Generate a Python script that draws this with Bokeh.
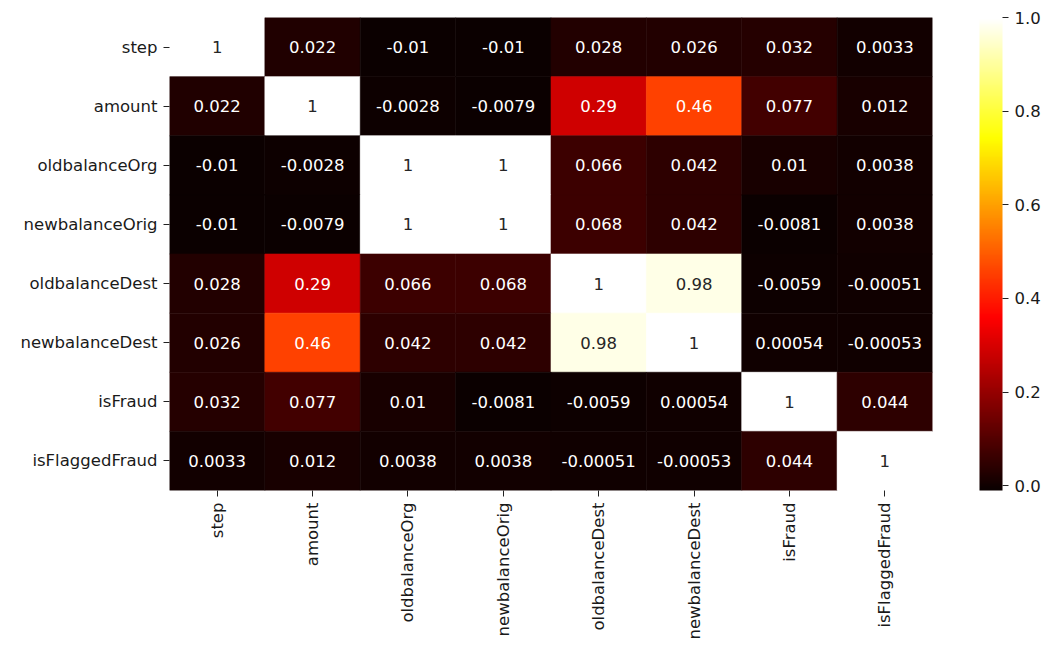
import numpy as np
from bokeh.plotting import figure
from bokeh.models import (ColumnDataSource, LinearColorMapper, ColorBar,
                          FixedTicker, PrintfTickFormatter)
from bokeh.core.properties import value
from bokeh.embed import file_html
from bokeh.resources import INLINE

# Correlation matrix of the transaction features
features = ["step", "amount", "oldbalanceOrg", "newbalanceOrig",
            "oldbalanceDest", "newbalanceDest", "isFraud", "isFlaggedFraud"]

row_step = [1, 0.022, -0.01, -0.01, 0.028, 0.026, 0.032, 0.0033]
row_amount = [0.022, 1, -0.0028, -0.0079, 0.29, 0.46, 0.077, 0.012]
row_oldbalanceOrg = [-0.01, -0.0028, 1, 1, 0.066, 0.042, 0.01, 0.0038]
row_newbalanceOrig = [-0.01, -0.0079, 1, 1, 0.068, 0.042, -0.0081, 0.0038]
row_oldbalanceDest = [0.028, 0.29, 0.066, 0.068, 1, 0.98, -0.0059, -0.00051]
row_newbalanceDest = [0.026, 0.46, 0.042, 0.042, 0.98, 1, 0.00054, -0.00053]
row_isFraud = [0.032, 0.077, 0.01, -0.0081, -0.0059, 0.00054, 1, 0.044]
row_isFlaggedFraud = [0.0033, 0.012, 0.0038, 0.0038, -0.00051, -0.00053, 0.044, 1]

colorbar_ticks = [0.0, 0.2, 0.4, 0.6, 0.8, 1.0]

matrix = np.array([row_step, row_amount, row_oldbalanceOrg, row_newbalanceOrig,
                   row_oldbalanceDest, row_newbalanceDest, row_isFraud,
                   row_isFlaggedFraud])


# matplotlib-style "hot" colormap as a 256-entry palette
def hot(t):
    r = 0.0416 + (1 - 0.0416) * min(t / 0.365079, 1.0)
    g = min(max((t - 0.365079) / (0.746032 - 0.365079), 0.0), 1.0)
    b = min(max((t - 0.746032) / (1 - 0.746032), 0.0), 1.0)
    return r, g, b


def to_hex(rgb):
    return "#%02x%02x%02x" % tuple(int(round(c * 255)) for c in rgb)


palette_rgb = [hot(i / 255) for i in range(256)]
palette = [to_hex(c) for c in palette_rgb]

vmin, vmax = float(matrix.min()), 1.0


def rel_lum(rgb):
    cs = [c / 12.92 if c <= 0.03928 else ((c + 0.055) / 1.055) ** 2.4 for c in rgb]
    return 0.2126 * cs[0] + 0.7152 * cs[1] + 0.0722 * cs[2]


xs, ys, vals, labels, fills, tcolors = [], [], [], [], [], []
for i, rname in enumerate(features):
    for j, cname in enumerate(features):
        v = float(matrix[i, j])
        idx = int(np.clip((v - vmin) / (vmax - vmin) * 255, 0, 255))
        rgb = palette_rgb[idx]
        xs.append(cname)
        ys.append(rname)
        vals.append(v)
        labels.append(f"{v:.2g}")
        fills.append(palette[idx])
        tcolors.append("#262626" if rel_lum(rgb) > 0.408 else "#ffffff")

src = ColumnDataSource(dict(x=xs, y=ys, v=vals, label=labels,
                            fill=fills, tcolor=tcolors))

p = figure(x_range=features, y_range=list(reversed(features)),
           frame_width=763, frame_height=473,
           min_border_left=169, min_border_top=17, min_border_bottom=156,
           min_border_right=0,
           output_backend="svg", toolbar_location=None)

mapper = LinearColorMapper(palette=palette, low=vmin, high=vmax)

p.rect(x="x", y="y", width=1, height=1, source=src,
       fill_color="fill", line_color="fill", line_width=0.6)
p.text(x="x", y="y", text="label", source=src, text_color="tcolor",
       text_align="center", text_baseline="middle",
       text_font=value("DejaVu Sans"), text_font_size="16.5px")

p.outline_line_color = None
p.grid.visible = False
for ax in (p.xaxis, p.yaxis):
    ax.axis_line_color = None
    ax.major_tick_in = 0
    ax.major_tick_out = 6
    ax.major_tick_line_color = "#222222"
    ax.minor_tick_line_color = None
    ax.major_label_text_font = "DejaVu Sans"
    ax.major_label_text_font_size = "16.5px"
    ax.major_label_text_color = "#1a1a1a"
    ax.major_label_standoff = 6
p.xaxis.major_label_orientation = np.pi / 2

cb = ColorBar(color_mapper=mapper, ticker=FixedTicker(ticks=colorbar_ticks),
              formatter=PrintfTickFormatter(format="%.1f"),
              width=23, padding=0, margin=0, location=(47, 0),
              major_tick_in=0, major_tick_out=6,
              major_tick_line_color="#222222", minor_tick_line_color=None,
              bar_line_color=None, border_line_color=None,
              background_fill_color=None, label_standoff=6,
              major_label_text_font="DejaVu Sans",
              major_label_text_font_size="16.5px",
              major_label_text_color="#1a1a1a")
p.add_layout(cb, "right")

open("out.html", "w").write(file_html(p, INLINE))
